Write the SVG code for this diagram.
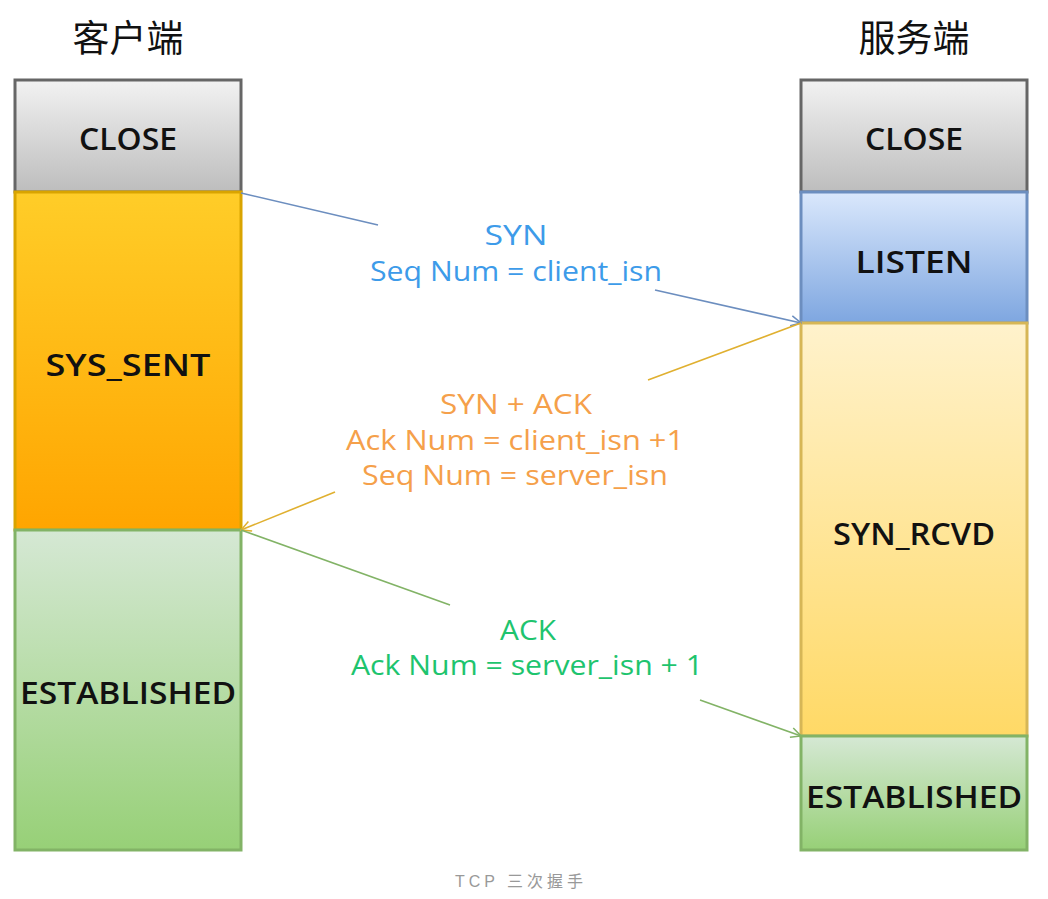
<svg xmlns="http://www.w3.org/2000/svg" width="1048" height="899" viewBox="0 0 1048 899">
<defs>
<linearGradient id="gGray" x1="0" y1="0" x2="0" y2="1"><stop offset="0" stop-color="#f2f2f2"/><stop offset="1" stop-color="#bdbdbd"/></linearGradient>
<linearGradient id="gOrange" x1="0" y1="0" x2="0" y2="1"><stop offset="0" stop-color="#ffcd28"/><stop offset="1" stop-color="#ffa500"/></linearGradient>
<linearGradient id="gGreen" x1="0" y1="0" x2="0" y2="1"><stop offset="0" stop-color="#d5e8d4"/><stop offset="1" stop-color="#97d077"/></linearGradient>
<linearGradient id="gBlue" x1="0" y1="0" x2="0" y2="1"><stop offset="0" stop-color="#dae8fc"/><stop offset="1" stop-color="#7ea6e0"/></linearGradient>
<linearGradient id="gYellow" x1="0" y1="0" x2="0" y2="1"><stop offset="0" stop-color="#fff2cc"/><stop offset="1" stop-color="#ffd966"/></linearGradient>
<marker id="mBlue" viewBox="0 0 12 12" refX="11" refY="6" markerWidth="12" markerHeight="12" markerUnits="userSpaceOnUse" orient="auto"><path d="M1,1 L11,6 L1,11" fill="none" stroke="#6c8ebf" stroke-width="1.5"/></marker>
<marker id="mGold" viewBox="0 0 12 12" refX="11" refY="6" markerWidth="12" markerHeight="12" markerUnits="userSpaceOnUse" orient="auto"><path d="M1,1 L11,6 L1,11" fill="none" stroke="#e0b030" stroke-width="1.5"/></marker>
<marker id="mGreen" viewBox="0 0 12 12" refX="11" refY="6" markerWidth="12" markerHeight="12" markerUnits="userSpaceOnUse" orient="auto"><path d="M1,1 L11,6 L1,11" fill="none" stroke="#82b366" stroke-width="1.5"/></marker>
</defs>
<style>
.hdr{font-family:"Noto Sans CJK SC","Noto Sans",sans-serif;font-size:37px;fill:#111;text-anchor:middle}
.lbl{font-family:"Open Sans","Liberation Sans",sans-serif;font-size:30px;font-weight:600;fill:#111;text-anchor:middle}
.msg{font-family:"Open Sans","Liberation Sans",sans-serif;font-size:28px;text-anchor:middle}
.blue{fill:#3d9be9}.orange{fill:#f5a04a}.green{fill:#1ec46e}
.cap{font-family:"Liberation Sans","Noto Sans CJK SC",sans-serif;font-size:16px;fill:#999;text-anchor:middle;letter-spacing:4px}
.ln{fill:none;stroke-width:1.6}
</style>
<rect width="1048" height="899" fill="#fff"/>
<text class="hdr" x="128" y="52">客户端</text>
<text class="hdr" x="914" y="52">服务端</text>

<g id="c-close"><rect x="15" y="80" width="226" height="112" fill="url(#gGray)" stroke="#666" stroke-width="3"/><text class="lbl" x="128" y="150" textLength="98" lengthAdjust="spacingAndGlyphs">CLOSE</text></g>
<g id="c-syssent"><rect x="15" y="192" width="226" height="338" fill="url(#gOrange)" stroke="#d9a400" stroke-width="3"/><text class="lbl" x="128" y="376" textLength="165" lengthAdjust="spacingAndGlyphs">SYS_SENT</text></g>
<g id="c-est"><rect x="15" y="530" width="226" height="320" fill="url(#gGreen)" stroke="#82b366" stroke-width="3"/><text class="lbl" x="128" y="704" textLength="216" lengthAdjust="spacingAndGlyphs">ESTABLISHED</text></g>

<g id="s-close"><rect x="801" y="80" width="226" height="112" fill="url(#gGray)" stroke="#666" stroke-width="3"/><text class="lbl" x="914" y="150" textLength="98" lengthAdjust="spacingAndGlyphs">CLOSE</text></g>
<g id="s-listen"><rect x="801" y="192" width="226" height="131" fill="url(#gBlue)" stroke="#6c8ebf" stroke-width="3"/><text class="lbl" x="914" y="273" textLength="117" lengthAdjust="spacingAndGlyphs">LISTEN</text></g>
<g id="s-synrcvd"><rect x="801" y="323" width="226" height="413" fill="url(#gYellow)" stroke="#d6b656" stroke-width="3"/><text class="lbl" x="914" y="545" textLength="162" lengthAdjust="spacingAndGlyphs">SYN_RCVD</text></g>
<g id="s-est"><rect x="801" y="736" width="226" height="114" fill="url(#gGreen)" stroke="#82b366" stroke-width="3"/><text class="lbl" x="914" y="808" textLength="216" lengthAdjust="spacingAndGlyphs">ESTABLISHED</text></g>

<g id="connectors">
<line class="ln" x1="241" y1="193" x2="378" y2="225" stroke="#6c8ebf"/>
<line class="ln" x1="655" y1="290" x2="801" y2="323" stroke="#6c8ebf" marker-end="url(#mBlue)"/>
<line class="ln" x1="801" y1="323" x2="648" y2="380" stroke="#e0b030"/>
<line class="ln" x1="335" y1="492" x2="241" y2="530" stroke="#e0b030" marker-end="url(#mGold)"/>
<line class="ln" x1="241" y1="530" x2="450" y2="605" stroke="#82b366"/>
<line class="ln" x1="700" y1="700" x2="801" y2="736" stroke="#82b366" marker-end="url(#mGreen)"/>
</g>

<g id="labels">
<text class="msg blue" x="516" y="245" textLength="63" lengthAdjust="spacingAndGlyphs">SYN</text>
<text class="msg blue" x="516" y="281" textLength="292" lengthAdjust="spacingAndGlyphs">Seq Num = client_isn</text>
<text class="msg orange" x="516" y="414" textLength="152" lengthAdjust="spacingAndGlyphs">SYN + ACK</text>
<text class="msg orange" x="515" y="450" textLength="338" lengthAdjust="spacingAndGlyphs">Ack Num =  client_isn +1</text>
<text class="msg orange" x="515" y="485" textLength="306" lengthAdjust="spacingAndGlyphs">Seq Num = server_isn</text>
<text class="msg green" x="528" y="640" textLength="56" lengthAdjust="spacingAndGlyphs">ACK</text>
<text class="msg green" x="527" y="675" textLength="352" lengthAdjust="spacingAndGlyphs">Ack Num = server_isn + 1</text>
</g>
<text class="cap" x="521" y="887">TCP 三次握手</text>
</svg>
